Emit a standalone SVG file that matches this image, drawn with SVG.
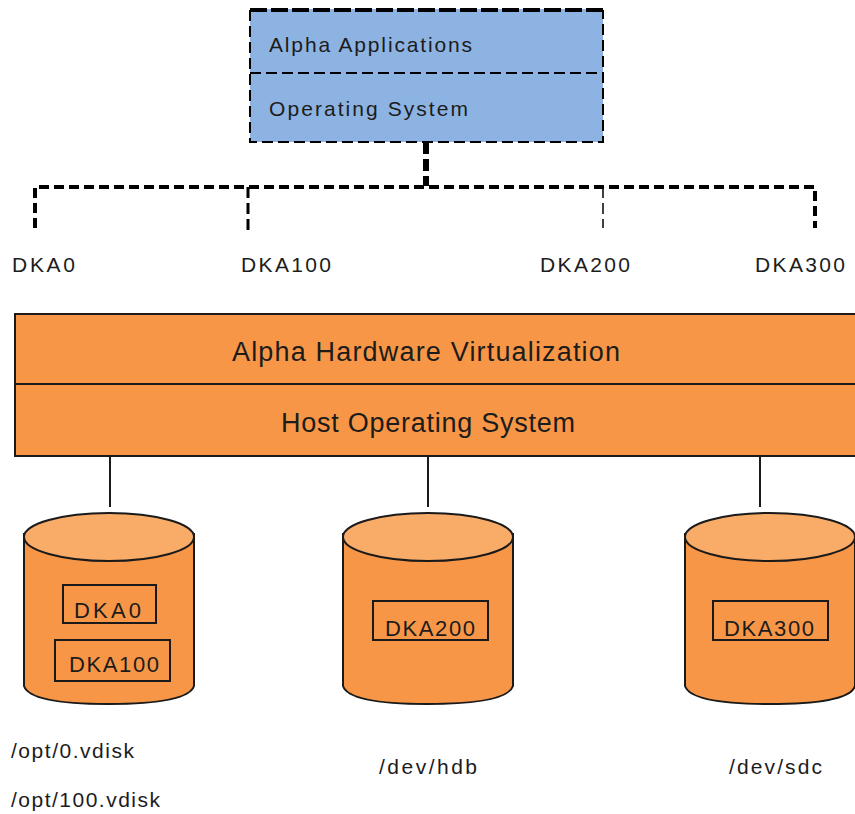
<svg xmlns="http://www.w3.org/2000/svg" width="855" height="814" viewBox="0 0 855 814">
<style>
text{font-family:"Liberation Sans",Arial,sans-serif;font-size:21px;fill:#1c1c1c}
.hw{font-size:27px}
.in{font-size:22px}
.dash{fill:none;stroke:#000;stroke-width:3;stroke-dasharray:11 5}
.o{fill:#f79646;stroke:#1a1a1a;stroke-width:2}
.top{fill:#f9ab68;stroke:#1a1a1a;stroke-width:2}
.box{fill:none;stroke:#1a1a1a;stroke-width:2}
.line{fill:none;stroke:#1a1a1a;stroke-width:2}
</style>
<rect width="855" height="814" fill="#fff"/>
<g id="guest">
<rect x="250" y="9" width="353" height="133" fill="#8db3e2"/>
<path class="dash" style="stroke-width:4;stroke-dasharray:17 4" d="M250 10H603"/>
<path class="dash" style="stroke-width:2" d="M250 10V142H603V10M250 73H603"/>
<text x="269" y="52" textLength="203">Alpha Applications</text>
<text x="269" y="116" textLength="199">Operating System</text>
</g>
<g id="connectors">
<path class="dash" style="stroke-width:6;stroke-dasharray:12 5" d="M426 142V186"/>
<path class="dash" style="stroke-width:4;stroke-dasharray:10 5" d="M35 228V187H815V228"/>
<path class="dash" d="M248 187V230"/>
<path class="dash" style="stroke-width:1.5" d="M603 187V228"/>
<path class="line" d="M110 456V507M428 456V507M760 456V507"/>
</g>
<g id="labels">
<text x="12" y="272" textLength="63">DKA0</text>
<text x="241" y="272" textLength="90">DKA100</text>
<text x="540" y="272" textLength="90">DKA200</text>
<text x="755" y="272" textLength="90">DKA300</text>
</g>
<g id="hardware">
<rect x="15" y="314" width="842" height="142" fill="#f79646" stroke="#1a1a1a" stroke-width="2"/>
<path class="line" d="M15 384H855"/>
<text class="hw" x="232" y="361" textLength="388">Alpha Hardware Virtualization</text>
<text class="hw" x="281" y="432" textLength="294">Host Operating System</text>
</g>
<g id="disk0">
<path class="o" d="M24 534V686Q30 704 108 704Q188 704 194 686V534Z"/>
<ellipse class="top" cx="109" cy="537" rx="85" ry="24"/>
<rect class="box" x="63" y="585" width="93" height="38"/>
<text class="in" x="74" y="618" textLength="67">DKA0</text>
<rect class="box" x="55" y="640" width="115" height="41"/>
<text class="in" x="69" y="672" textLength="90">DKA100</text>
</g>
<g id="disk200">
<path class="o" d="M343 534V686Q349 704 427 704Q507 704 513 686V534Z"/>
<ellipse class="top" cx="428" cy="537" rx="85" ry="24"/>
<rect class="box" x="373" y="601" width="115" height="39"/>
<text class="in" x="385" y="636" textLength="90">DKA200</text>
</g>
<g id="disk300">
<path class="o" d="M685 534V686Q691 704 769 704Q849 704 855 686V534Z"/>
<ellipse class="top" cx="770" cy="537" rx="85" ry="24"/>
<rect class="box" x="713" y="601" width="115" height="39"/>
<text class="in" x="724" y="636" textLength="90">DKA300</text>
</g>
<g id="paths">
<text x="11" y="758" textLength="123">/opt/0.vdisk</text>
<text x="11" y="807" textLength="149">/opt/100.vdisk</text>
<text x="379" y="774" textLength="98">/dev/hdb</text>
<text x="729" y="774" textLength="93">/dev/sdc</text>
</g>
</svg>
